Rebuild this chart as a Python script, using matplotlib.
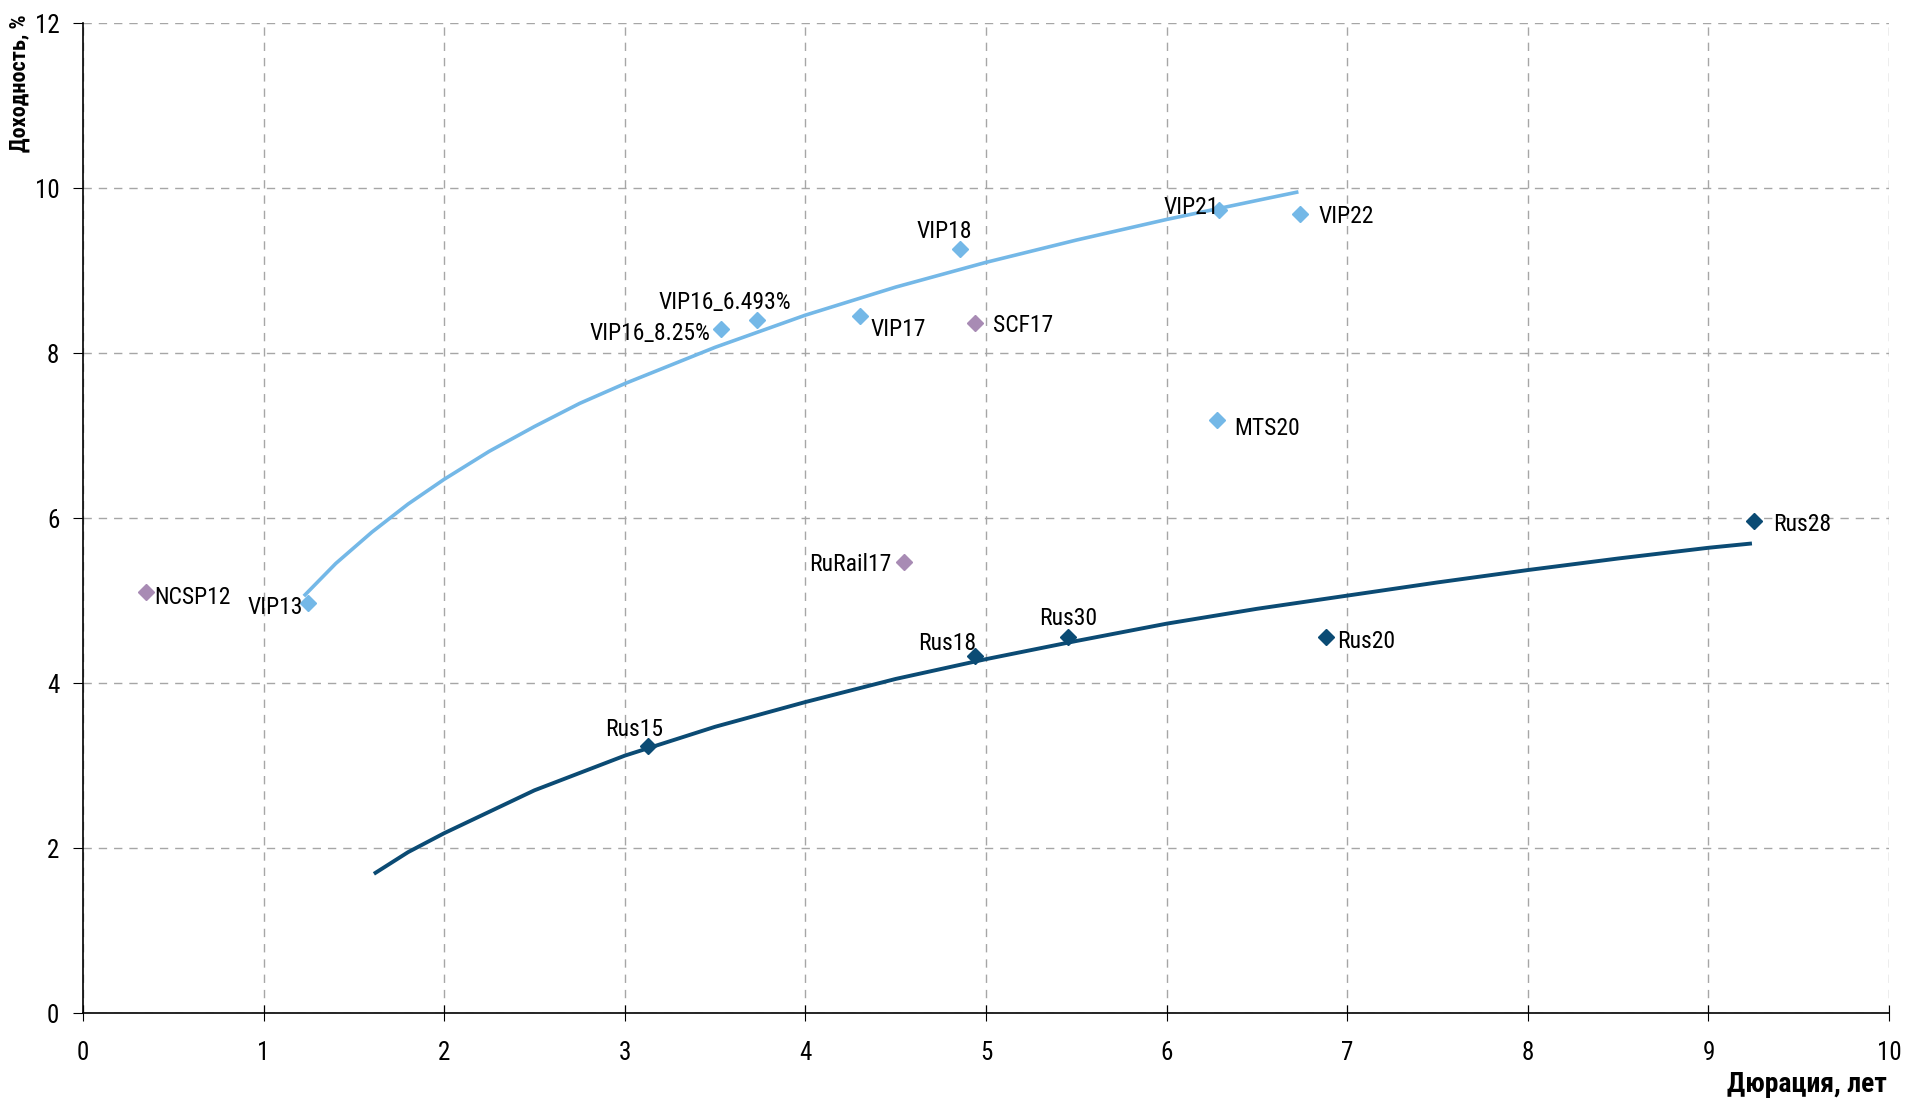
import matplotlib.pyplot as plt
from matplotlib import font_manager

# curves
light_x = [1.23, 1.4, 1.6, 1.8, 2.0, 2.25, 2.5, 2.75, 3.0, 3.5, 4.0, 4.5, 5.0, 5.5, 6.0, 6.5, 6.72]
light_y = [5.07, 5.45, 5.83, 6.17, 6.47, 6.81, 7.11, 7.39, 7.63, 8.07, 8.46, 8.80, 9.10, 9.37, 9.62, 9.85, 9.95]
dark_x = [1.62, 1.8, 2.0, 2.5, 3.0, 3.5, 4.0, 4.5, 5.0, 5.5, 6.0, 6.5, 7.0, 7.5, 8.0, 8.5, 9.0, 9.23]
dark_y = [1.70, 1.95, 2.18, 2.70, 3.12, 3.47, 3.77, 4.05, 4.29, 4.51, 4.72, 4.90, 5.06, 5.22, 5.37, 5.51, 5.64, 5.69]

# bonds
vip_names = ['VIP13', 'VIP16_8.25%', 'VIP16_6.493%', 'VIP17', 'VIP18', 'VIP21', 'VIP22', 'MTS20']
vip_dur = [1.246, 3.53, 3.73, 4.30, 4.855, 6.29, 6.74, 6.28]
vip_yld = [4.97, 8.29, 8.40, 8.45, 9.26, 9.73, 9.69, 7.19]

other_names = ['NCSP12', 'SCF17', 'RuRail17']
other_dur = [0.35, 4.94, 4.545]
other_yld = [5.10, 8.37, 5.47]

rus_names = ['Rus15', 'Rus18', 'Rus30', 'Rus20', 'Rus28']
rus_dur = [3.13, 4.94, 5.455, 6.88, 9.25]
rus_yld = [3.24, 4.33, 4.56, 4.56, 5.96]

# label placement: (dx, dy in points, ha)
label_pos = {
    'VIP13': (-4, -3, 'right'), 'VIP16_8.25%': (-7, -3, 'right'),
    'VIP16_6.493%': (-23, 13, 'center'), 'VIP17': (8, -10, 'left'),
    'VIP18': (-11, 13, 'center'), 'VIP21': (0, 2, 'right'),
    'VIP22': (13, -2, 'left'), 'MTS20': (12, -6, 'left'),
    'NCSP12': (6, -4, 'left'), 'SCF17': (13, -2, 'left'),
    'RuRail17': (-9, -2, 'right'),
    'Rus15': (-10, 12, 'center'), 'Rus18': (-20, 9, 'center'),
    'Rus30': (0, 13, 'center'), 'Rus20': (8, -3, 'left'),
    'Rus28': (14, -2, 'left'),
}

light = '#74B8E7'
dark = '#0B4B74'
purple = '#A88BB4'


def find_font(keys):
    files = [f.fname for f in font_manager.fontManager.ttflist]
    for k in keys:
        for f in files:
            if f.split('/')[-1].lower().startswith(k.lower()):
                return font_manager.FontProperties(fname=f)
    return font_manager.FontProperties(family='DejaVu Sans', stretch='condensed')


fp = find_font(['LiberationSansNarrow-Regular', 'RobotoCondensed-Regular',
                'OpenSans_Condensed-Regular', 'DejaVuSansCondensed.ttf'])
fpb = find_font(['LiberationSansNarrow-Bold.', 'RobotoCondensed-Bold.',
                 'OpenSans_Condensed-Bold.', 'DejaVuSansCondensed-Bold.'])

fig = plt.figure(figsize=(19.07, 11.01), dpi=100)
ax = fig.add_axes([0.0435, 0.0799, 0.9471, 0.8991])

ax.plot(light_x, light_y, color=light, lw=2.6, zorder=2)
ax.plot(dark_x, dark_y, color=dark, lw=2.8, zorder=2)
ax.plot(vip_dur, vip_yld, 'D', color=light, ms=8, zorder=3)
ax.plot(other_dur, other_yld, 'D', color=purple, ms=8, zorder=3)
ax.plot(rus_dur, rus_yld, 'D', color=dark, ms=8, zorder=3)

for nm, xs, ys in [(vip_names, vip_dur, vip_yld), (other_names, other_dur, other_yld),
                   (rus_names, rus_dur, rus_yld)]:
    for n, x, y in zip(nm, xs, ys):
        dx, dy, ha = label_pos[n]
        ax.annotate(n, (x, y), xytext=(dx, dy), textcoords='offset points',
                    ha=ha, va='center', fontproperties=fp, fontsize=17,
                    color='black', zorder=4)

ax.set_xlim(0, 10)
ax.set_ylim(0, 12)
ax.set_xticks(range(0, 11))
ax.set_yticks(range(0, 13, 2))
ax.grid(True, color='#A6A6A6', linestyle=(0, (6, 5)), lw=1)
ax.set_axisbelow(True)
for s in ['top', 'right']:
    ax.spines[s].set_visible(False)
for s in ['left', 'bottom']:
    ax.spines[s].set_color('black')
    ax.spines[s].set_linewidth(1.2)
ax.tick_params(axis='x', direction='inout', length=12, pad=14)
ax.tick_params(axis='y', direction='out', length=7, pad=10)
for lab in ax.get_xticklabels() + ax.get_yticklabels():
    lab.set_fontproperties(fp)
    lab.set_fontsize(18)

# axis titles
fig.text(20 / 1907, 1 - 14 / 1101, 'Доходность, %', rotation=90, ha='center', va='top',
         fontproperties=fpb, fontsize=16)
fig.text(1887 / 1907, 1 - 1085 / 1101, 'Дюрация, лет', ha='right', va='center',
         fontproperties=fpb, fontsize=20)

fig.savefig('out.png', dpi=100)
